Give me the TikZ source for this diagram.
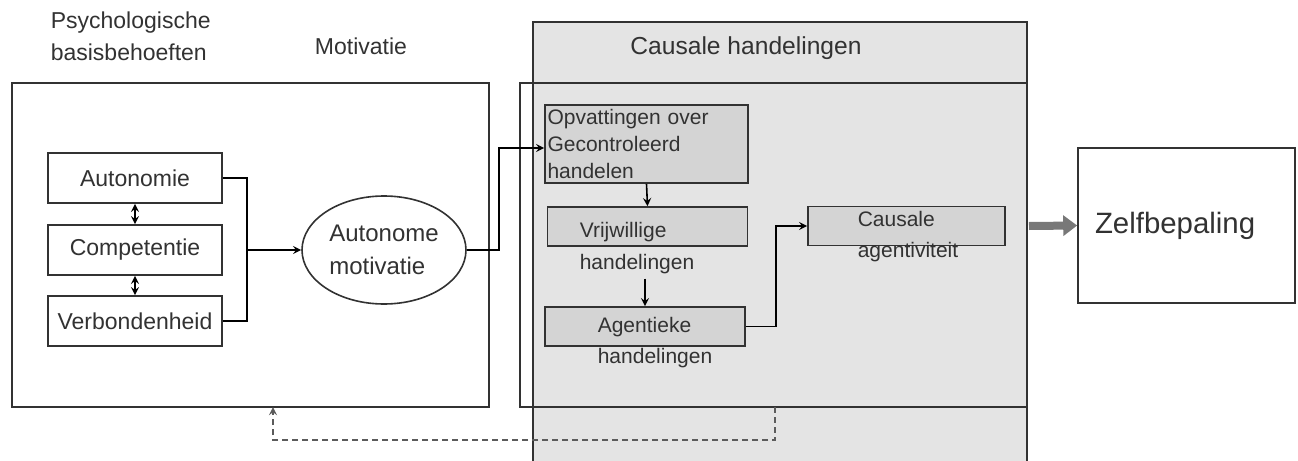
\documentclass[tikz,border=0pt]{standalone}
\usepackage{fontspec}
\setmainfont{Liberation Sans}
\usetikzlibrary{arrows.meta,positioning,shapes.geometric}
\definecolor{panelgray}{RGB}{228,228,228}
\definecolor{boxgray}{RGB}{212,212,212}
\definecolor{linegray}{RGB}{50,50,50}
\definecolor{arrowgray}{RGB}{120,120,120}

\begin{document}
\begin{tikzpicture}[x=0.5pt, y=-0.5pt, >=stealth, line width=0.8pt,
    every node/.style={font=\fontsize{11.5}{16}\selectfont, text=linegray},
    needbox/.style={draw=linegray, fill=white, minimum width=87pt, minimum height=25pt, inner sep=0pt},
    actbox/.style={draw=linegray, fill=boxgray, minimum width=100pt, minimum height=19.5pt, inner sep=0pt},
    note/.style={align=left, anchor=west, inner sep=0pt, font=\fontsize{10.5}{15.5}\selectfont}]
    \useasboundingbox (0,0) rectangle (1298,461);

    % panels
    \fill[panelgray] (533,22) rectangle (1027,461);
    \draw[linegray] (533,461) |- (1027,22) -- (1027,461);
    \draw[linegray] (520,83) rectangle (1027,407);
    \draw[linegray] (12,83) rectangle (489,407);

    \node[align=left, anchor=west, inner sep=0pt] (psy) at (50,36) {Psychologische\\basisbehoeften};
    \node (motlbl) at (361,46) {Motivatie};
    \node[font=\fontsize{12.3}{15}\selectfont] (causlbl) at (746,48) {Causale handelingen};

    % needs
    \node[needbox] (auton) at (135,178) {Autonomie};
    \node[needbox] (compet) at (135,250) {Competentie};
    \node[needbox] (verbond) at (135,321) {Verbondenheid};
    \node[ellipse, draw=linegray, fill=white, minimum width=82pt, minimum height=54pt, inner sep=0pt, align=left, font=\fontsize{12}{16.5}\selectfont] (automot) at (384,250) {Autonome\\motivatie};

    % actions
    \node[actbox, minimum height=39pt, minimum width=101.5pt, text width=99pt, align=left, inner sep=1pt, font=\fontsize{10.5}{13.5}\selectfont] (opvat) at (646.5,144) {Opvattingen over\\Gecontroleerd\\handelen};
    \node[actbox] (vrijw) at (647.5,226.5) {};
    \node[note, font=\fontsize{10.5}{16}\selectfont] (vrijtxt) at (579,248) {Vrijwillige\\handelingen};
    \node[actbox] (agent) at (645,326.5) {};
    \node[note] (agenttxt) at (597,343) {Agentieke\\handelingen};
    \node[actbox, minimum width=98.5pt] (causag) at (906.5,226) {};
    \node[note] (caustxt) at (857,237) {Causale\\agentiviteit};

    \node[draw=linegray, fill=white, text width=91.5pt, inner xsep=8.5pt, minimum height=77.5pt, align=left, font=\fontsize{14.7}{17}\selectfont] (zelf) at (1186.5,225.5) {Zelfbepaling};

    % connectors
    \coordinate (merge) at (247,250);
    \draw[<->] (auton.south) -- (compet.north);
    \draw[<->] (compet.south) -- (verbond.north);
    \draw (auton.east) -| (merge) |- (verbond.east);
    \draw[->] (merge) -- (automot.west);
    \draw[->] (automot.east) -- ++(32,0) |- ([yshift=-2pt]opvat.west);
    \draw[->] (opvat.south) -- (vrijw.north);
    \draw[->] ([yshift=-2pt]agent.north |- vrijtxt.south) -- (agent.north);
    \draw[->] (agent.east) -- ++(30,0) |- (causag.west);

    \coordinate (panelexit) at (1029,226);
    \draw[-{Triangle[length=7pt,width=10pt]}, line width=4pt, arrowgray] (panelexit) -- (zelf.west);

    \coordinate (fbfrom) at (775,407);
    \coordinate (fbto) at (273,407);
    \draw[densely dashed, linegray!80, ->] (fbfrom) -- ++(0,33) -| (fbto);
\end{tikzpicture}
\end{document}
